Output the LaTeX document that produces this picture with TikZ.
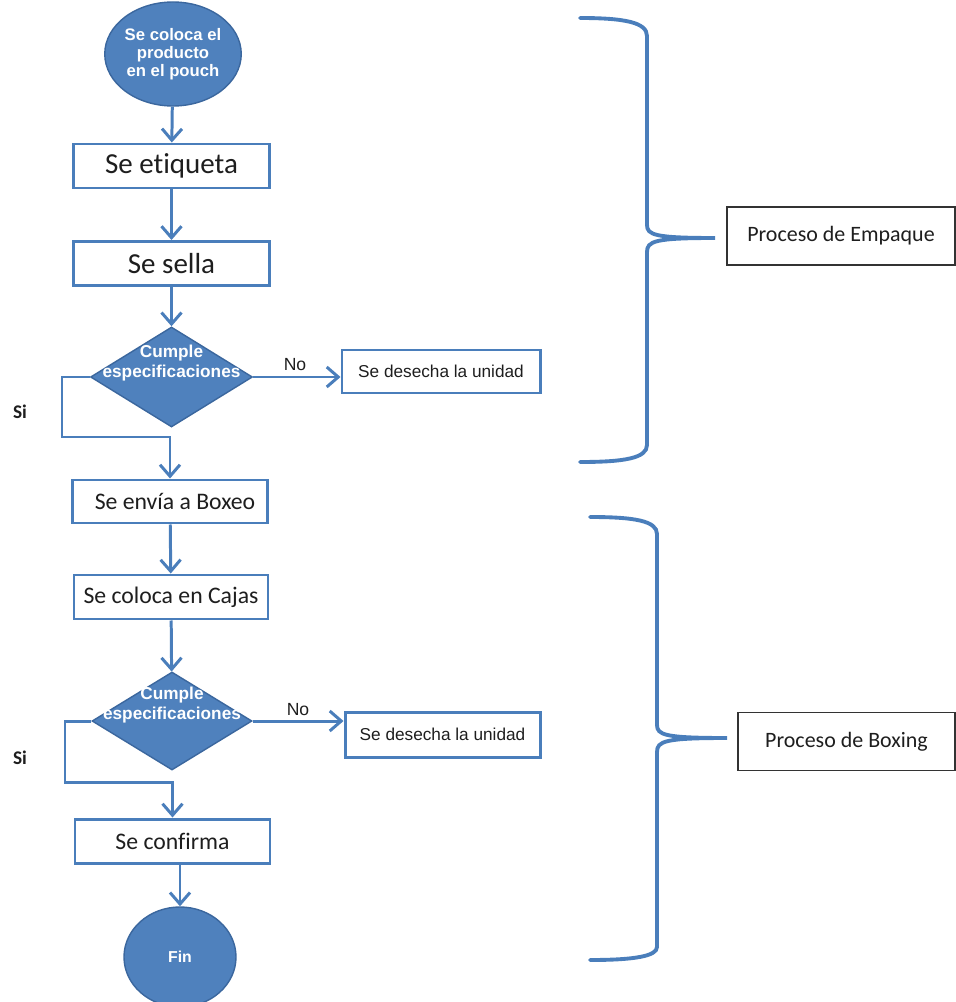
\documentclass[tikz,border=0pt]{standalone}
\usepackage{fontspec}
\setmainfont{Carlito}[Ligatures=NoCommon]
\newfontfamily\arialfont{Liberation Sans}
\usetikzlibrary{shapes.geometric}
\usetikzlibrary{arrows.meta}
\definecolor{flowBlue}{HTML}{4A7EBB}
\definecolor{fillBlue}{HTML}{4F81BD}
\definecolor{edgeBlue}{HTML}{3B679E}
\definecolor{textDark}{HTML}{1E1E1E}

\begin{document}
\begin{tikzpicture}[
			stepbox/.style={rectangle, draw=flowBlue, line width=1.7pt, fill=white, minimum width=3.92cm, minimum height=0.88cm, inner sep=0pt, text=textDark},
			bigtxt/.style={font=\fontsize{16.5}{18}\selectfont},
			midtxt/.style={font=\fontsize{13.5}{15}\selectfont},
			endbox/.style={rectangle, draw=flowBlue, line width=1.7pt, minimum width=3.92cm, minimum height=0.87cm, inner sep=0pt, text=textDark, font=\arialfont\fontsize{9.8}{11}\selectfont},
			term/.style={ellipse, fill=fillBlue, draw=edgeBlue, line width=0.8pt, inner sep=0pt, text=white, align=center, font=\arialfont\bfseries\fontsize{9.5}{10.2}\selectfont},
			decision/.style={diamond, fill=fillBlue, draw=edgeBlue, line width=0.8pt, inner sep=0pt, minimum width=3.24cm, minimum height=2cm},
			dectxt/.style={text=white, align=center, inner sep=0pt, font=\arialfont\bfseries\fontsize{9.8}{11.3}\selectfont},
			lbl/.style={font=\arialfont\fontsize{10}{12}\selectfont, text=textDark},
			silbl/.style={font=\bfseries\fontsize{11}{12}\selectfont, text=textDark},
			flow/.style={draw=flowBlue, line width=1.7pt, -{Straight Barb[length=2.3mm, width=4mm]}},
			brc/.style={draw=flowBlue, line width=2.2pt, line cap=round},
			tag/.style={rectangle, draw=black!80, line width=0.6pt, inner sep=0pt, minimum height=1.16cm, text=textDark, font=\fontsize{12.5}{14}\selectfont},
			]
			\useasboundingbox (0,0) rectangle (19.12,-20.04);
			% empaque
			\node[term, minimum width=2.32cm, minimum height=2.08cm] (start) at (3.46,-1.08) {Se coloca el\\producto\\en el pouch};
			\node[stepbox, bigtxt] (etiq) at (3.43,-3.32) {Se etiqueta};
			\node[stepbox, bigtxt] (sella) at (3.43,-5.27) {Se sella};
			\node[decision, label={[dectxt, yshift=0.28cm]center:{Cumple\\especificaciones}}] (dec1) at (3.43,-7.54) {};
			\node[endbox, minimum width=3.96cm, minimum height=0.86cm] (desecha1) at (8.82,-7.43) {Se desecha la unidad};
			\node[lbl] (no1) at (5.9,-7.3) {No};
			\node[silbl] (si1) at (0.4,-8.24) {Si};
			\coordinate (bend1) at (1.24,-8.74);
			% boxing
			\node[stepbox, midtxt, minimum width=3.9cm, minimum height=0.86cm] (envia) at (3.40,-10.03) {\hspace{0.2cm}Se envía a Boxeo};
			\node[stepbox, midtxt, minimum width=3.88cm] (cajas) at (3.42,-11.94) {Se coloca en Cajas};
			\node[decision, minimum width=3.2cm, minimum height=1.96cm, label={[dectxt, yshift=0.32cm]center:{Cumple\\especificaciones}}] (dec2) at (3.44,-14.42) {};
			\node[endbox, minimum width=3.9cm, minimum height=0.9cm] (desecha2) at (8.85,-14.69) {Se desecha la unidad};
			\node[lbl] (no2) at (5.96,-14.2) {No};
			\node[silbl] (si2) at (0.4,-15.16) {Si};
			\coordinate (bend2) at (1.3,-15.64);
			\node[stepbox, midtxt, minimum width=3.9cm] (confirma) at (3.45,-16.82) {Se confirma};
			\node[term, minimum width=2.24cm, minimum height=2.0cm, font=\arialfont\bfseries\fontsize{9}{10}\selectfont] (fin) at (3.6,-19.14) {Fin};
			\foreach \i/\j in {start/etiq, etiq/sella, sella/dec1, envia/cajas, cajas/dec2} \draw[flow] (\i) -- (\j);
			\draw[flow] (dec1.east) -- (dec1.east -| desecha1.west);
			\draw[flow] (dec2.east) -- (dec2.east -| desecha2.west);
			\draw[flow] (dec1.west) -| (bend1) -| (envia.north);
			\draw[flow] (dec2.west) -| (bend2) -| (confirma.north);
			\draw[flow] (confirma.south -| fin.north) -- (fin.north);
			% llaves
			\draw[brc] (11.6,-0.36) .. controls (12.5,-0.36) and (12.94,-0.45) .. (12.94,-0.72) -- (12.94,-4.5) .. controls (12.94,-4.7) and (13.1,-4.76) .. (14.3,-4.76) .. controls (13.1,-4.76) and (12.94,-4.82) .. (12.94,-5.04) -- (12.94,-8.9) .. controls (12.94,-9.16) and (12.5,-9.24) .. (11.6,-9.24);
			\draw[brc] (11.8,-10.34) .. controls (12.7,-10.34) and (13.14,-10.42) .. (13.14,-10.68) -- (13.14,-14.5) .. controls (13.14,-14.7) and (13.3,-14.76) .. (14.54,-14.76) .. controls (13.3,-14.76) and (13.14,-14.82) .. (13.14,-15.04) -- (13.14,-18.94) .. controls (13.14,-19.12) and (12.7,-19.2) .. (11.8,-19.2);
			\node[tag, minimum width=4.56cm] (empaque) at (16.82,-4.72) {Proceso de Empaque};
			\node[tag, minimum width=4.34cm] (boxing) at (16.93,-14.83) {Proceso de Boxing};
		\end{tikzpicture}
\end{document}
